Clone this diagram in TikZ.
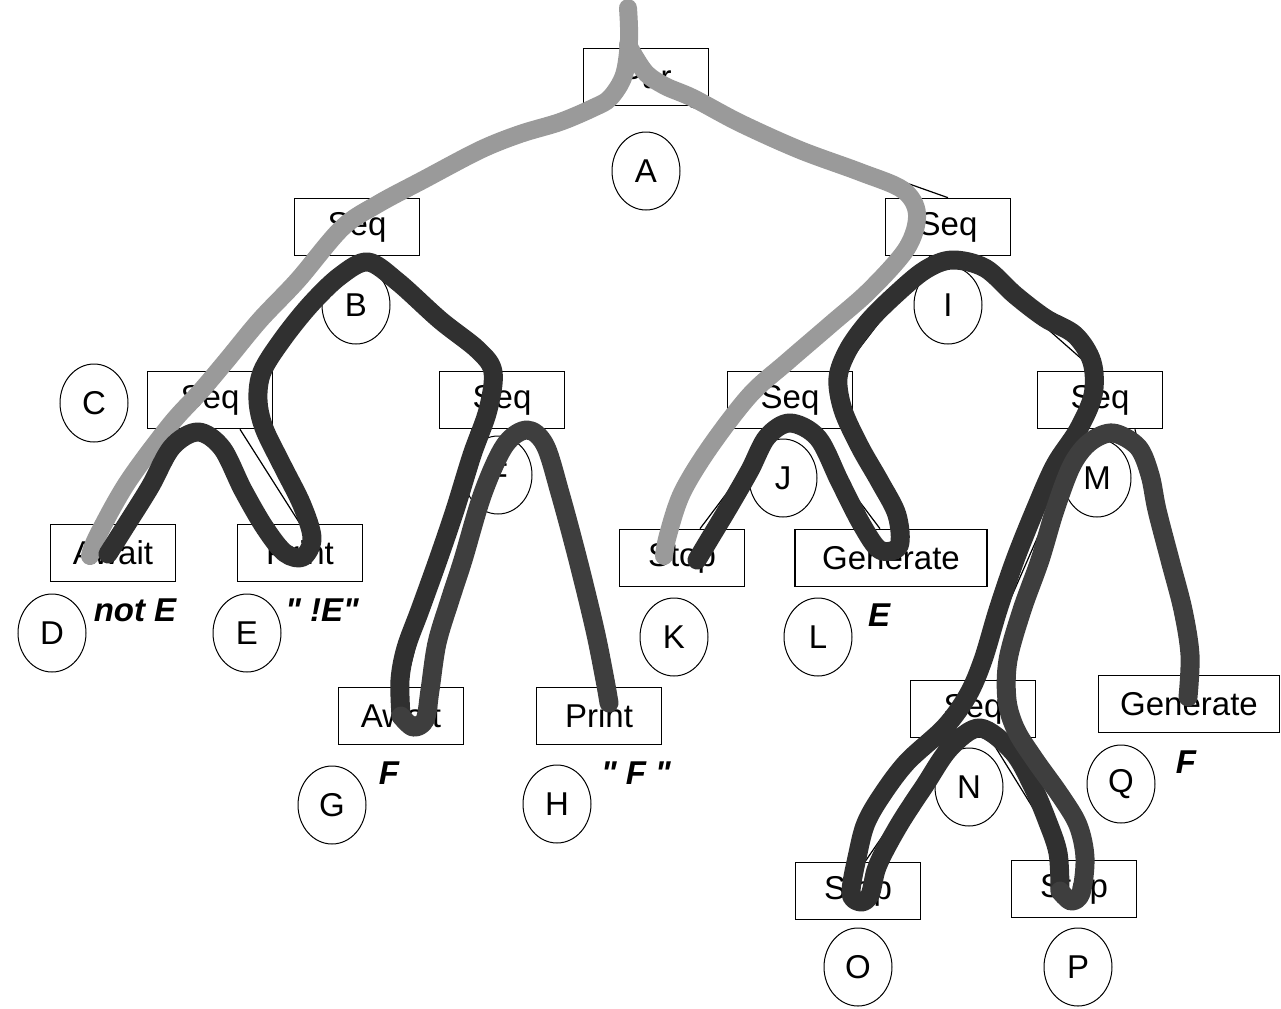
\documentclass[tikz,border=0pt]{standalone}
\usepackage{fontspec}
\setmainfont{Liberation Sans}
% a face without the TeX mapping, so that " stays a straight quote
\newfontfamily\notefont[Ligatures=TeXOff]{Liberation Sans}
\usetikzlibrary{shapes.geometric}
\definecolor{tracegray}{HTML}{9A9A9A}
\definecolor{tracedark}{HTML}{303030}
\definecolor{tracemid}{HTML}{3E3E3E}
\begin{document}
\begin{tikzpicture}[x=0.5pt,y=-0.5pt,
  box/.style={draw, line width=0.8pt, fill=white, minimum width=62.5pt,
    minimum height=28.5pt, inner sep=0pt, font=\fontsize{16.5}{18}\selectfont},
  widebox/.style={box, minimum width=96pt},
  tag/.style={ellipse, draw, line width=0.5pt, fill=white, minimum width=34pt,
    minimum height=39pt, inner sep=0pt, font=\fontsize{16.5}{18}\selectfont},
  note/.style={inner sep=0pt, font=\notefont\fontsize{16.5}{18}\selectfont\bfseries\itshape},
  treeedge/.style={line width=0.6pt},
  trail/.style={line width=9.5pt, line cap=round, line join=round},
]
\useasboundingbox (0,0) rectangle (1281,1008);

% statement boxes
\node[box] (root) at (646,77) {Par};
\node[box] (seqB) at (357,227) {Seq};
\node[box] (seqI) at (948,227) {Seq};
\node[box] (seqC) at (210,400) {Seq};
\node[box] (seqF) at (502,400) {Seq};
\node[box] (seqJ) at (790,400) {Seq};
\node[box] (seqM) at (1100,400) {Seq};
\node[box] (awaitD) at (113,553) {Await};
\node[box] (printE) at (300,553) {Print};
\node[box] (stopK) at (682,558) {Stop};
\node[widebox] (genL) at (891,558) {Generate};
\node[box] (awaitG) at (401,716) {Await};
\node[box] (printH) at (599,716) {Print};
\node[box] (seqN) at (973,709) {Seq};
\node[box, minimum width=90.5pt] (genQ) at (1189,704) {Generate};
\node[box] (stopO) at (858,891) {Stop};
\node[box] (stopP) at (1074,889) {Stop};

% tree edges, from a parent's lower side to a child's upper side
\draw[treeedge]
  ([xshift=-20.5pt]root.south) -- ([xshift=11.5pt]seqB.north)
  ([xshift=22pt]root.south) -- (seqI.north)
  (seqB.south) -- ([xshift=27.5pt]seqC.north)
  ([xshift=5.5pt]seqB.south) -- ([xshift=-6pt]seqF.north)
  ([xshift=-7.5pt]seqC.south) -- ([xshift=6pt]awaitD.north)
  ([xshift=15pt]seqC.south) -- (printE.north)
  ([xshift=-15pt]seqF.south) -- ([xshift=2pt]awaitG.north)
  ([xshift=16.5pt]seqF.south) -- ([xshift=3pt]printH.north)
  ([xshift=-9pt]seqI.south) -- ([xshift=26pt]seqJ.north)
  ([xshift=8.5pt]seqI.south) -- ([xshift=-2.5pt]seqM.north)
  ([xshift=-7.5pt]seqJ.south) -- ([xshift=9pt]stopK.north)
  ([xshift=7.5pt]seqJ.south) -- ([xshift=-5.5pt]genL.north)
  ([xshift=-7.5pt]seqM.south) -- ([xshift=1pt]seqN.north)
  ([xshift=17.5pt]seqM.south) -- (genQ.north)
  ([xshift=-11.5pt]seqN.south) -- ([xshift=3.5pt]stopO.north)
  ([xshift=8.5pt]seqN.south) -- ([xshift=-4.5pt]stopP.north);

% node letters
\node[tag] (tA) at (646,171) {A};
\node[tag] (tB) at (356,305) {B};
\node[tag] (tC) at (94,403) {C};
\node[tag] (tD) at (52,633) {D};
\node[tag] (tE) at (247,633) {E};
\node[tag] (tF) at (498,475) {F};
\node[tag] (tG) at (332,805) {G};
\node[tag] (tH) at (557,804) {H};
\node[tag] (tI) at (948,305) {I};
\node[tag] (tJ) at (783,478) {J};
\node[tag] (tK) at (674,637) {K};
\node[tag] (tL) at (818,637) {L};
\node[tag] (tM) at (1097,478) {M};
\node[tag] (tN) at (969,787) {N};
\node[tag] (tO) at (858,967) {O};
\node[tag] (tP) at (1078,967) {P};
\node[tag] (tQ) at (1121,784) {Q};

% arguments
\node[note] (argD) at (135,610) {not E};
\node[note] (argE) at (322,610) {" !E"};
\node[note] (argG) at (389,773) {F};
\node[note] (argH) at (636,773) {" F "};
\node[note] (argL) at (879,615) {E};
\node[note] (argQ) at (1186,762) {F};

% first traversal
\draw[trail, tracegray, line width=9pt] plot[smooth, tension=0.55] coordinates {
  (628,8) (629,40) (624,75) (610,98) (593,108) (560,122) (520,134) (480,150)
  (423,180) (378,204) (342,228) (298,280) (260,320) (227,360) (200,392)
  (170,425) (127,483) (97,537) (90,556)};
\draw[trail, tracegray, line width=9pt] plot[smooth, tension=0.55] coordinates {
  (628,45) (645,72) (665,86) (693,98) (740,123) (800,150) (860,172)
  (903,190) (917,214) (907,248) (870,290) (830,325) (787,362) (750,395)
  (710,447) (682,493) (668,535) (664,556)};

% second traversal, left subtree
\draw[trail, tracedark] plot[smooth, tension=0.55] coordinates {
  (108,554) (125,527) (150,487) (172,447) (198,432) (222,448) (243,490)
  (265,528) (285,553) (303,557) (312,538) (302,505) (282,465) (264,428)
  (258,400) (262,372) (282,340) (310,305) (340,276) (368,262) (398,282)
  (440,320) (478,350) (493,372) (488,410) (472,455) (455,510) (438,560)
  (420,610) (406,648) (400,680) (401,716)};
\draw[trail, tracemid] plot[smooth, tension=0.55] coordinates {
  (401,716) (413,727) (425,720) (430,690) (437,643) (450,600) (463,560)
  (483,493) (505,445) (527,430) (545,445) (560,493) (578,560) (595,630)
  (605,680) (609,703)};

% second traversal, right subtree
\draw[trail, tracedark] plot[smooth, tension=0.55] coordinates {
  (697,560) (712,535) (730,505) (750,470) (767,437) (790,423) (818,438)
  (840,482) (862,525) (880,550) (899,546) (897,515) (880,482) (860,447)
  (843,410) (838,378) (848,350) (868,322) (895,295) (925,270) (952,260)
  (985,268) (1015,295) (1045,318) (1075,335) (1092,362) (1093,395)
  (1078,430) (1055,465) (1035,510) (1015,560) (998,610) (983,660)
  (968,695) (945,727) (907,762) (882,795) (866,823) (858,853) (851,893)
  (861,902) (870,895) (876,870) (885,850) (902,820) (925,785) (950,748)
  (980,728) (1013,752) (1033,787) (1047,820) (1058,853) (1060,891)};
\draw[trail, tracemid] plot[smooth, tension=0.55] coordinates {
  (1060,891) (1071,901) (1081,893) (1085,858) (1078,825) (1060,795)
  (1035,760) (1016,730) (1007,700) (1008,660) (1022,610) (1040,560)
  (1055,510) (1072,465) (1090,442) (1113,433) (1138,447) (1150,475)
  (1157,510) (1170,560) (1183,610) (1190,655) (1188,697)};
\end{tikzpicture}
\end{document}
